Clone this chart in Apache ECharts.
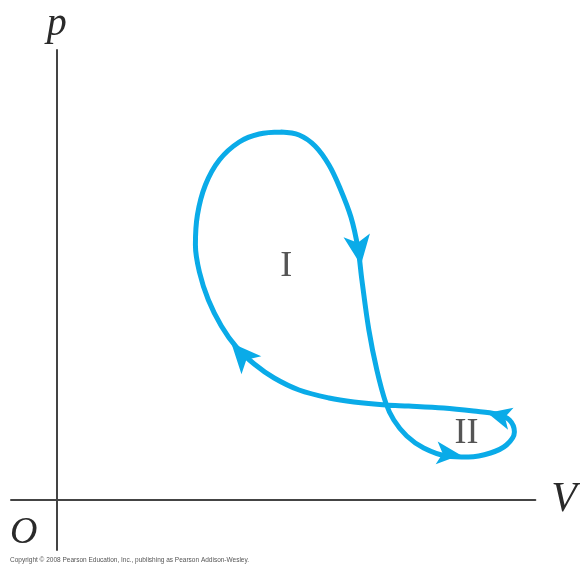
<!DOCTYPE html>
<html>
<head>
<meta charset="utf-8">
<script src="https://cdn.jsdelivr.net/npm/echarts@6/dist/echarts.min.js"></script>
<style>
  html, body { margin: 0; padding: 0; background: #fff; }
  #pvChart { width: 580px; height: 571px; }
</style>
</head>
<body>
<div id="pvChart"></div>
<script>
  // cycle path (V, p), clockwise from the top of loop I
  let cycleV = [225, 243, 259, 273, 284, 295, 302, 306, 313, 321, 330, 338, 351, 368, 391, 413, 435, 451, 459, 454,
    441, 418, 388, 353, 330, 298, 273, 243, 218, 198, 180, 165, 152, 143, 139, 141, 149, 163, 183, 203, 225]
  let cycleP = [368, 365, 354, 335, 312, 283, 252, 220, 170, 130, 97, 80, 64, 52, 44, 43, 47, 55, 68, 80,
    86, 89, 92, 94, 95, 98, 102, 110, 122, 136, 153, 174, 200, 228, 255, 285, 315, 340, 358, 366, 368]

  // direction arrows on the path (tip position)
  let arrowV = [305, 405, 432, 175]
  let arrowP = [235, 45, 87, 157]
  let arrowAngle = [-172, -95, 76, 42]
  let arrowSize = [[20, 30], [17, 24], [17, 24], [20, 30]]

  // region labels
  let regionNames = ['I', 'II']
  let regionV = [230, 411]
  let regionP = [233, 66]

  let lineColor = '#0aabe8'
  let myChart = echarts.init(document.getElementById('pvChart'))

  let pathData = []
  for (let i in cycleV) {
    pathData.push([cycleV[i], cycleP[i]])
  }
  let arrowData = []
  for (let i in arrowV) {
    arrowData.push({
      value: [arrowV[i], arrowP[i]],
      symbolRotate: arrowAngle[i],
      symbolSize: arrowSize[i]
    })
  }
  let regionData = []
  for (let i in regionNames) {
    regionData.push({ name: regionNames[i], value: [regionV[i], regionP[i]] })
  }

  let serif = '"Liberation Serif", "DejaVu Serif", serif'

  let option = {
    animation: false,
    backgroundColor: '#ffffff',
    grid: {
      left: 11,
      right: 43,
      top: 50,
      bottom: 21
    },
    xAxis: {
      type: 'value',
      min: -46,
      max: 480,
      name: 'V',
      nameLocation: 'end',
      nameGap: 16,
      nameTextStyle: {
        fontFamily: serif,
        fontStyle: 'italic',
        fontSize: 42,
        color: '#2a2a2a',
        padding: [9, 0, 0, 0]
      },
      axisLine: { show: true, onZero: true, lineStyle: { color: '#444', width: 2 } },
      axisTick: { show: false },
      axisLabel: { show: false },
      splitLine: { show: false }
    },
    yAxis: {
      type: 'value',
      min: -50,
      max: 450,
      name: 'p',
      nameLocation: 'end',
      nameGap: 6,
      nameTextStyle: {
        fontFamily: serif,
        fontStyle: 'italic',
        fontSize: 40,
        color: '#2a2a2a'
      },
      axisLine: { show: true, onZero: true, lineStyle: { color: '#444', width: 2 } },
      axisTick: { show: false },
      axisLabel: { show: false },
      splitLine: { show: false }
    },
    graphic: [
      {
        type: 'text',
        left: 10,
        top: 514,
        style: {
          text: 'O',
          font: 'italic 38px ' + serif,
          fill: '#2a2a2a'
        }
      },
      {
        type: 'text',
        left: 10,
        top: 557,
        style: {
          text: 'Copyright © 2008 Pearson Education, Inc., publishing as Pearson Addison-Wesley.',
          font: '6.5px "Liberation Sans", Arial, sans-serif',
          fill: '#555'
        }
      }
    ],
    series: [
      {
        type: 'line',
        data: pathData,
        smooth: 0.35,
        showSymbol: false,
        symbol: 'none',
        lineStyle: { color: lineColor, width: 5, cap: 'round', join: 'round' },
        z: 2
      },
      {
        type: 'scatter',
        symbol: 'arrow',
        data: arrowData,
        itemStyle: { color: lineColor, opacity: 1 },
        z: 3
      },
      {
        type: 'scatter',
        symbolSize: 0,
        data: regionData,
        label: {
          show: true,
          position: 'inside',
          formatter: '{b}',
          fontFamily: serif,
          fontSize: 36,
          color: '#2a2a2a'
        },
        z: 4
      }
    ]
  }

  myChart.setOption(option)
</script>
</body>
</html>
